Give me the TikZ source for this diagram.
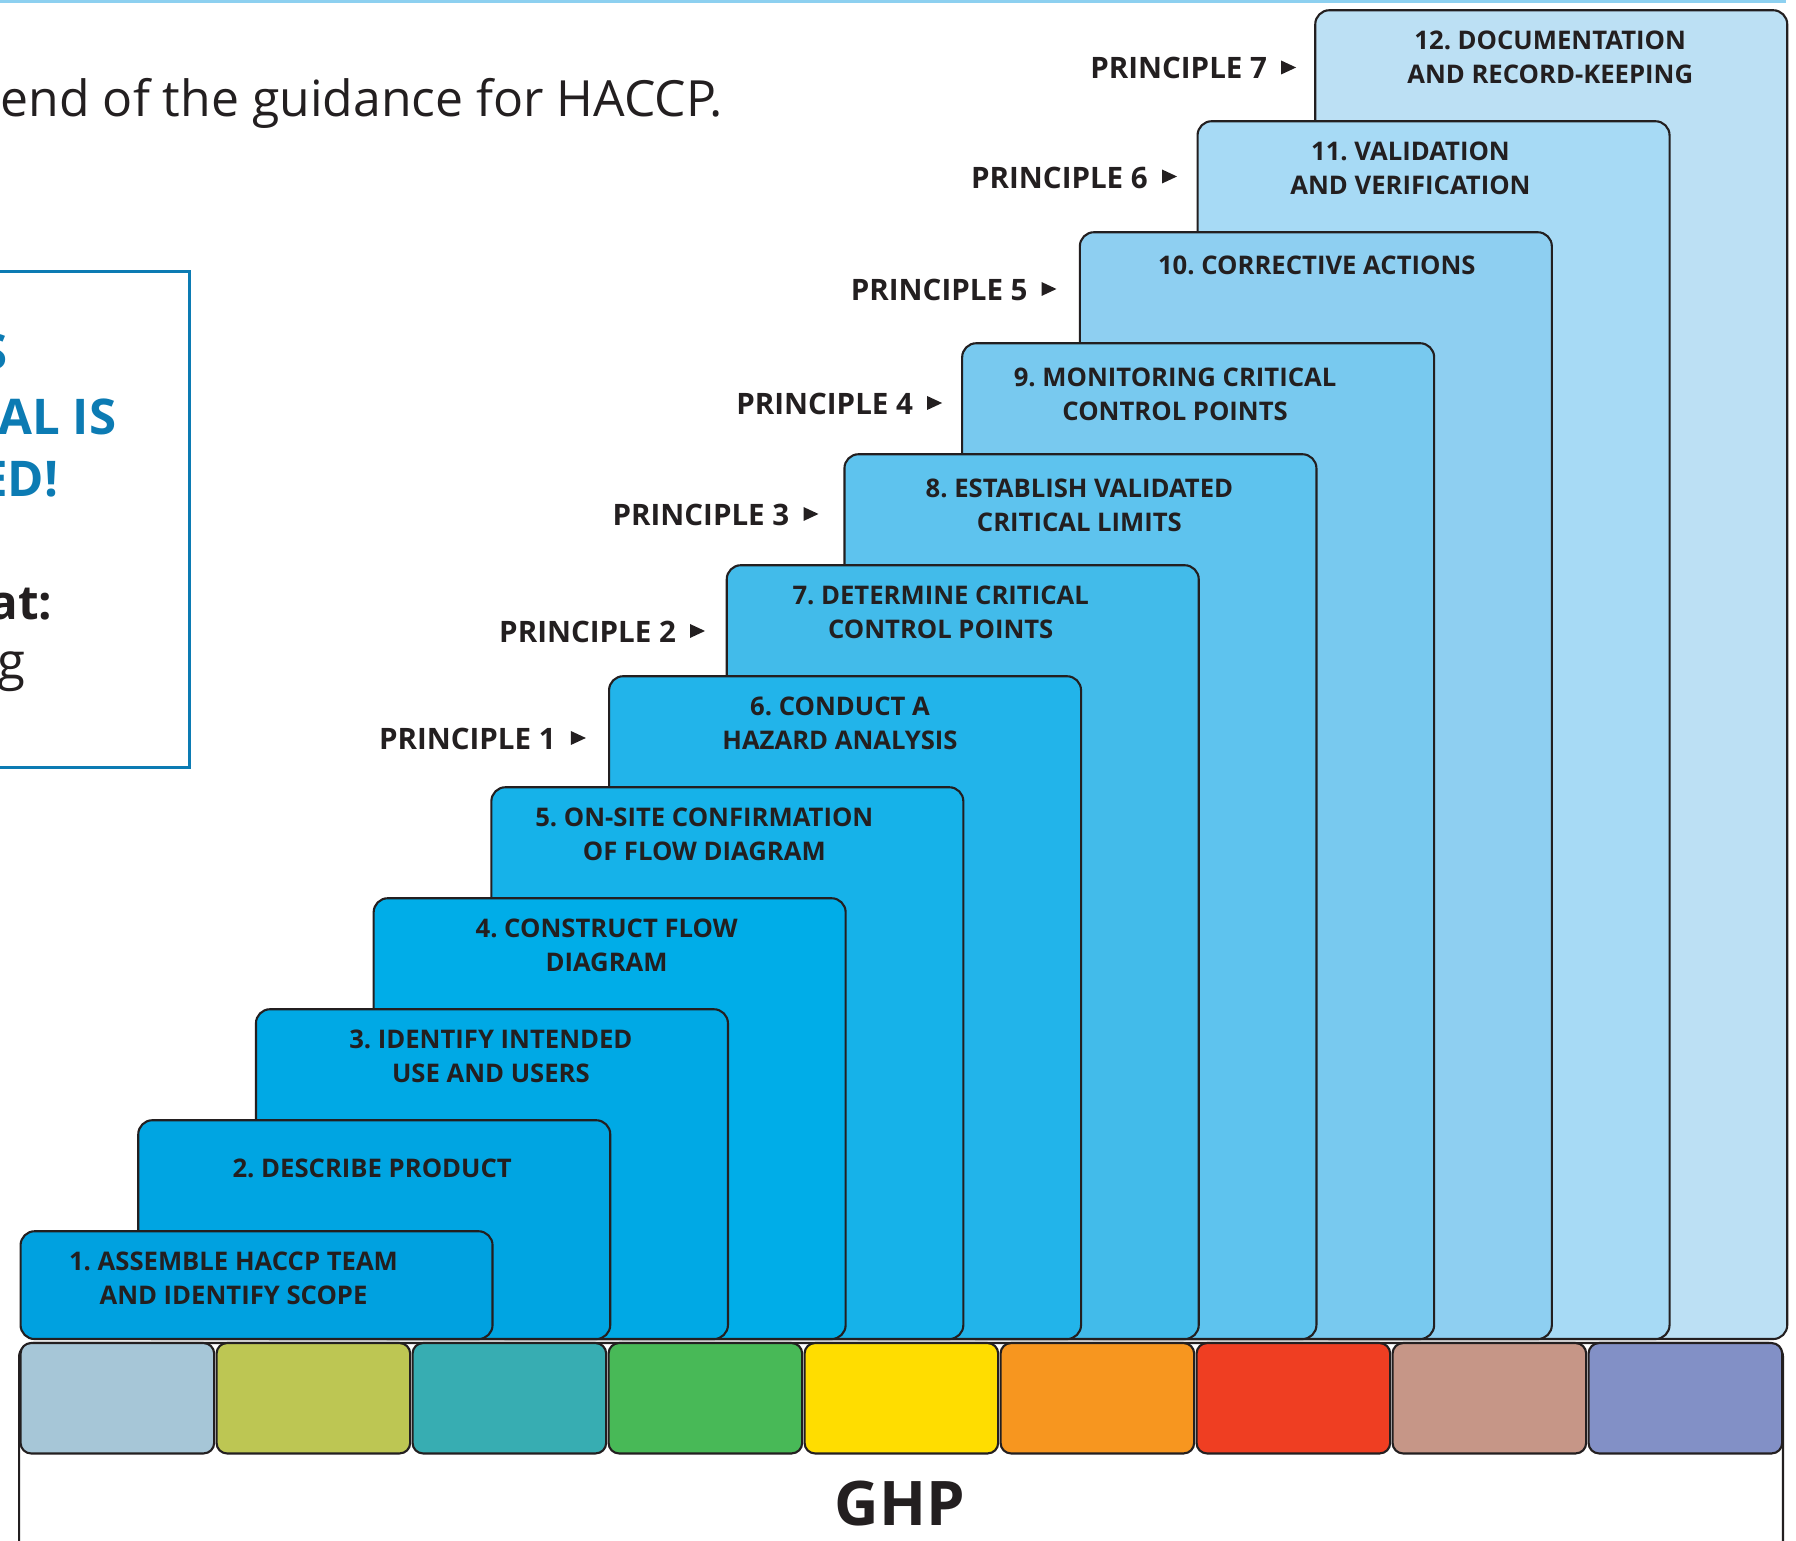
\documentclass[tikz,border=0pt]{standalone}
\usepackage{fontspec}
\setmainfont{Open Sans}
\usetikzlibrary{positioning}
\frenchspacing

\definecolor{ink}{HTML}{231F20}
\definecolor{calloutblue}{HTML}{0C7BB3}
\definecolor{topblue}{HTML}{8DD0F0}
% step colours, dark to light
\definecolor{stepA}{HTML}{00A1E0}
\definecolor{stepB}{HTML}{00A5E2}
\definecolor{stepC}{HTML}{00A9E5}
\definecolor{stepD}{HTML}{00ADE8}
\definecolor{stepE}{HTML}{16B2E9}
\definecolor{stepF}{HTML}{22B4EA}
\definecolor{stepG}{HTML}{42BBEA}
\definecolor{stepH}{HTML}{5EC3EE}
\definecolor{stepI}{HTML}{78C9EF}
\definecolor{stepJ}{HTML}{8ECFF1}
\definecolor{stepK}{HTML}{A7DAF5}
\definecolor{stepL}{HTML}{BCE0F4}
% GHP strip colours
\definecolor{ghpA}{HTML}{A6C6D7}
\definecolor{ghpB}{HTML}{BDC653}
\definecolor{ghpC}{HTML}{37ADB2}
\definecolor{ghpD}{HTML}{48B957}
\definecolor{ghpE}{HTML}{FFDD00}
\definecolor{ghpF}{HTML}{F7961F}
\definecolor{ghpG}{HTML}{EF3E22}
\definecolor{ghpH}{HTML}{C69687}
\definecolor{ghpI}{HTML}{8290C6}

\begin{document}
\begin{tikzpicture}[x=0.1mm,y=-0.1mm]

\tikzset{mystep/.style={draw=ink,line width=0.6pt,rounded corners=4pt,anchor=north west,minimum width=47.2mm,inner sep=0pt},}
\tikzset{mytext/.style={align=center,inner sep=0pt,text=ink,font=\bfseries\fontsize{7.3}{9.7}\selectfont},}
\tikzset{myprinc/.style={anchor=east,inner sep=0pt,text=ink,font=\bfseries\fontsize{8.4}{10}\selectfont},}
\tikzset{mystrip/.style={draw=ink,line width=0.6pt,rounded corners=3pt,anchor=north west,minimum width=19.36mm,minimum height=11.04mm,inner sep=0pt},}
\tikzset{myblue/.style={inner sep=0pt,anchor=base east,text=calloutblue,font=\bfseries\fontsize{14}{16}\selectfont},}

\useasboundingbox (0,0) rectangle (1796,1541);
\clip (0,0) rectangle (1796,1541);

%TOP
\draw[topblue,line width=0.9pt] (0,1.5) -- (1786,1.5);
\node[anchor=base west,inner sep=0pt,text=ink,font=\fontsize{14.2}{16}\selectfont] (intro) at (0,117) {end of the guidance for HACCP.};

%CALLOUT
\node[draw=calloutblue,line width=0.8pt,anchor=north west,minimum width=20mm,minimum height=49.6mm,inner sep=0pt] (callout) at (-12,270) {};
\node[myblue] (c1) at (8,370) {S};
\node[myblue] (c2) at (117,435) {AL IS};
\node[myblue] (c3) at (59,497) {ED!};
\node[myblue,text=ink,font=\bfseries\fontsize{13.5}{16}\selectfont] (c4) at (53,620) {at:};
\node[myblue,text=ink,font=\fontsize{14.5}{16}\selectfont] (c5) at (26,680) {g};

%GHP
\node[draw=ink,line width=0.6pt,rounded corners=4pt,anchor=north west,minimum width=176.4mm,minimum height=25mm,inner sep=0pt] (ghpbox) at (18,1342) {};
\node[mystrip,fill=ghpA] (g1) at (19.5,1342) {};
\node[mystrip,fill=ghpB] (g2) at (215.5,1342) {};
\node[mystrip,fill=ghpC] (g3) at (411.5,1342) {};
\node[mystrip,fill=ghpD] (g4) at (607.5,1342) {};
\node[mystrip,fill=ghpE] (g5) at (803.5,1342) {};
\node[mystrip,fill=ghpF] (g6) at (999.5,1342) {};
\node[mystrip,fill=ghpG] (g7) at (1195.5,1342) {};
\node[mystrip,fill=ghpH] (g8) at (1391.5,1342) {};
\node[mystrip,fill=ghpI] (g9) at (1587.5,1342) {};
\node[inner sep=0pt,text=ink,font=\bfseries\fontsize{17.5}{20}\selectfont] (ghp) at (900,1504) {GHP};

%STEPS, back to front
\node[mystep,fill=stepL,minimum height=132.88mm] (s12) at (1314.2,9.2) {};
\node[mystep,fill=stepK,minimum height=121.78mm] (s11) at (1196.5,120.2) {};
\node[mystep,fill=stepJ,minimum height=110.68mm] (s10) at (1078.8,231.2) {};
\node[mystep,fill=stepI,minimum height=99.58mm] (s9) at (961.1,342.2) {};
\node[mystep,fill=stepH,minimum height=88.48mm] (s8) at (843.4,453.2) {};
\node[mystep,fill=stepG,minimum height=77.38mm] (s7) at (725.7,564.2) {};
\node[mystep,fill=stepF,minimum height=66.28mm] (s6) at (608.0,675.2) {};
\node[mystep,fill=stepE,minimum height=55.18mm] (s5) at (490.3,786.2) {};
\node[mystep,fill=stepD,minimum height=44.08mm] (s4) at (372.6,897.2) {};
\node[mystep,fill=stepC,minimum height=32.98mm] (s3) at (254.9,1008.2) {};
\node[mystep,fill=stepB,minimum height=21.88mm] (s2) at (137.2,1119.2) {};
\node[mystep,fill=stepA,minimum height=10.78mm] (s1) at (19.5,1230.2) {};

\node[mytext] (t1) at (233.5,1278) {1. ASSEMBLE HACCP TEAM\\AND IDENTIFY SCOPE};
\node[mytext] (t2) at (372.2,1168) {2. DESCRIBE PRODUCT};
\node[mytext] (t3) at (490.9,1056) {3. IDENTIFY INTENDED\\USE AND USERS};
\node[mytext] (t4) at (606.6,945) {4. CONSTRUCT FLOW\\DIAGRAM};
\node[mytext] (t5) at (704.3,834) {5. ON-SITE CONFIRMATION\\OF FLOW DIAGRAM};
\node[mytext] (t6) at (840,723) {6. CONDUCT A\\HAZARD ANALYSIS};
\node[mytext] (t7) at (940.7,612) {7. DETERMINE CRITICAL\\CONTROL POINTS};
\node[mytext] (t8) at (1079.4,505) {8. ESTABLISH VALIDATED\\CRITICAL LIMITS};
\node[mytext] (t9) at (1175.1,394) {9. MONITORING CRITICAL\\CONTROL POINTS};
\node[mytext] (t10) at (1316.8,265) {10. CORRECTIVE ACTIONS};
\node[mytext] (t11) at (1410.5,168) {11. VALIDATION\\AND VERIFICATION};
\node[mytext] (t12) at (1550.2,57) {12. DOCUMENTATION\\AND RECORD-KEEPING};

%PRINCIPLES
\node[myprinc] (p1) at (556.4,739) {PRINCIPLE 1};
\node[myprinc] (p2) at (676.6,632) {PRINCIPLE 2};
\node[myprinc] (p3) at (790,515) {PRINCIPLE 3};
\node[myprinc] (p4) at (913.7,404) {PRINCIPLE 4};
\node[myprinc] (p5) at (1028.3,290) {PRINCIPLE 5};
\node[myprinc] (p6) at (1148.5,177.5) {PRINCIPLE 6};
\node[myprinc] (p7) at (1267.7,68) {PRINCIPLE 7};

\coordinate (a1) at (578.4,738);
\coordinate (a2) at (697.5,631);
\coordinate (a3) at (811,514);
\coordinate (a4) at (934.6,403);
\coordinate (a5) at (1049,289);
\coordinate (a6) at (1169.5,176.5);
\coordinate (a7) at (1288.6,67.5);
\fill[ink] (a1) ++(-7.5,-7) -- ++(15,7) -- ++(-15,7) -- cycle;
\fill[ink] (a2) ++(-7.5,-7) -- ++(15,7) -- ++(-15,7) -- cycle;
\fill[ink] (a3) ++(-7.5,-7) -- ++(15,7) -- ++(-15,7) -- cycle;
\fill[ink] (a4) ++(-7.5,-7) -- ++(15,7) -- ++(-15,7) -- cycle;
\fill[ink] (a5) ++(-7.5,-7) -- ++(15,7) -- ++(-15,7) -- cycle;
\fill[ink] (a6) ++(-7.5,-7) -- ++(15,7) -- ++(-15,7) -- cycle;
\fill[ink] (a7) ++(-7.5,-7) -- ++(15,7) -- ++(-15,7) -- cycle;

\end{tikzpicture}
\end{document}
